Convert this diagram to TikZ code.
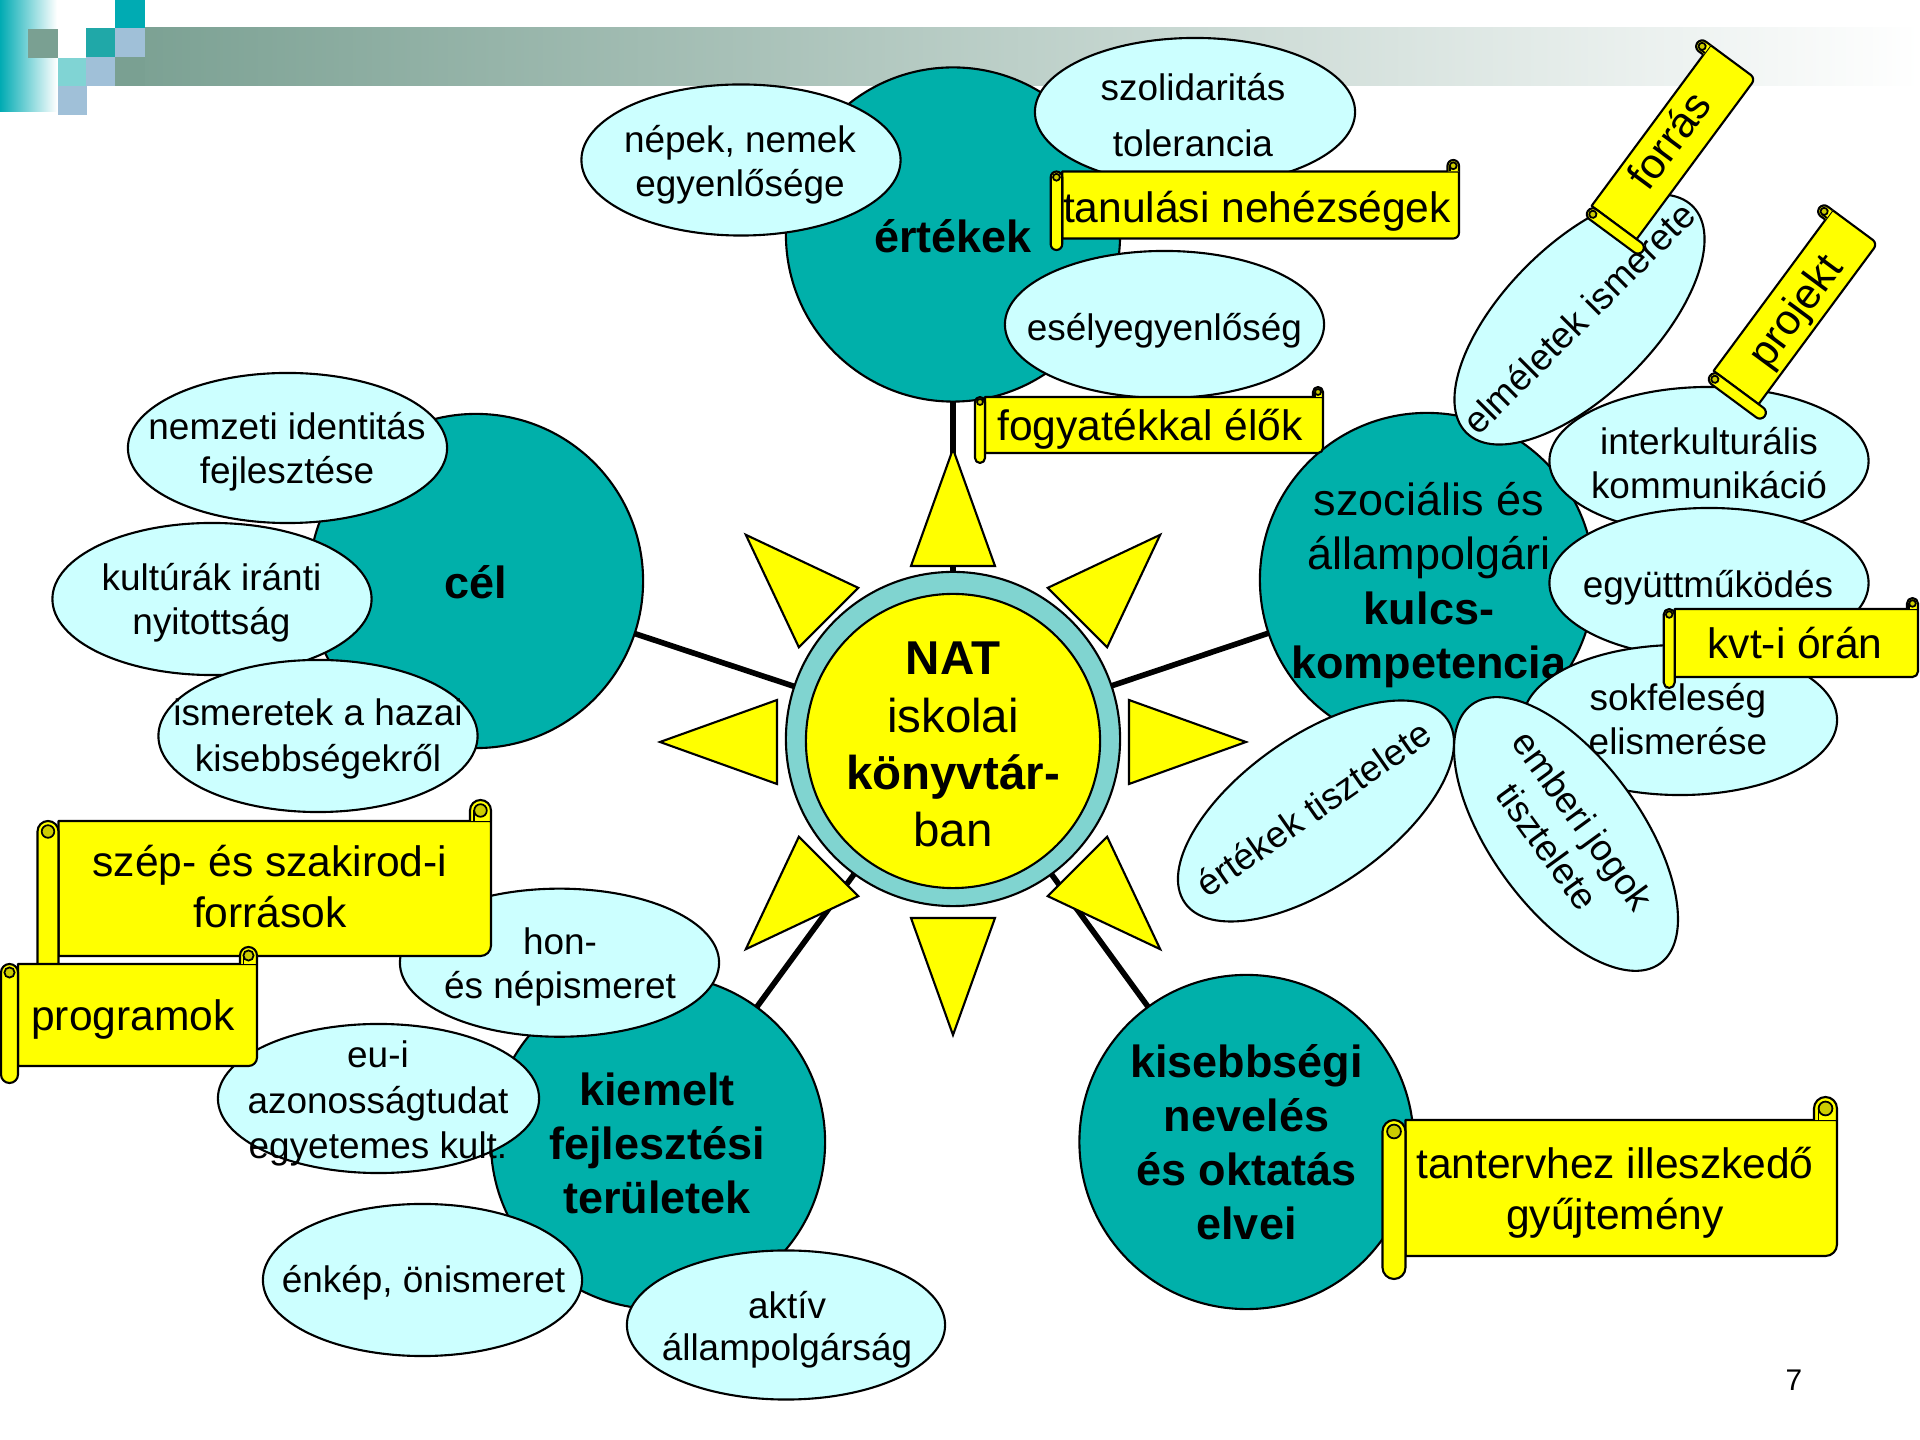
\documentclass[tikz,border=0pt]{standalone}
\usepackage{fontspec}
\setmainfont{Liberation Sans}
\usetikzlibrary{shapes.geometric}
\pgfdeclarelayer{background}
\pgfsetlayers{background,main}
\definecolor{tealc}{RGB}{0,176,170}
\definecolor{cyanl}{RGB}{204,255,255}
\definecolor{ringc}{RGB}{128,212,208}
\definecolor{yel}{RGB}{255,255,0}
\definecolor{curlY}{RGB}{204,204,0}
\definecolor{hdteal}{RGB}{0,171,179}
\definecolor{hdteal2}{RGB}{32,168,168}
\definecolor{hdgreen}{RGB}{122,160,146}
\definecolor{hdlteal}{RGB}{128,212,212}
\definecolor{hdblue}{RGB}{160,192,216}
\newcommand\fEll{\fontsize{10.5pt}{12.5pt}\selectfont}
\newcommand\fTeal{\fontsize{12.8pt}{15.4pt}\selectfont}
\newcommand\fNat{\fontsize{13.5pt}{16.3pt}\selectfont}
\newcommand\fScr{\fontsize{12.1pt}{14.4pt}\selectfont}
% horizontal scroll: left, top, right, bottom, roll size (pixel units, y down)
\newcommand\hscroll[5]{%
  \pgfmathsetmacro\scL{#1}\pgfmathsetmacro\scT{#2}%
  \pgfmathsetmacro\scR{#3}\pgfmathsetmacro\scB{#4}%
  \pgfmathsetmacro\scC{#5}\pgfmathsetmacro\scH{#5/2}%
  \filldraw[scr] ({\scL+\scC},{\scT+\scC}) -- (\scR,{\scT+\scC}) -- (\scR,{\scB-\scC-\scH})
     arc[start angle=0,end angle=90,radius=\scH] -- ({\scL+\scC},{\scB-\scC}) -- cycle;
  \filldraw[scr] ({\scR-\scC},{\scT+\scC}) -- ({\scR-\scC},{\scT+\scH})
     arc[start angle=180,end angle=360,radius=\scH] -- (\scR,{\scT+\scC});
  \filldraw[curl] ({\scR-\scH},{\scT+\scH}) circle[radius={0.6*\scH}];
  \draw[line width=0.5pt] ({\scR-\scC*0.8},{\scT+\scH}) -- ({\scR-\scC*0.8},{\scT+\scC});
  \filldraw[scr] (\scL,{\scT+\scC+\scH}) arc[start angle=180,end angle=360,radius=\scH]
     -- ({\scL+\scC},{\scB-\scH}) arc[start angle=0,end angle=180,radius=\scH] -- cycle;
  \filldraw[curl] ({\scL+\scH},{\scT+\scC+\scH}) circle[radius={0.6*\scH}];
}
\tikzset{
  conn/.style={line width=1.6pt, black},
  cyell/.style={ellipse, draw=black, line width=0.6pt, fill=cyanl, inner sep=0pt,
                minimum width=3.2cm, minimum height=1.5cm},
  tealblob/.style={circle, draw=black, line width=0.6pt, fill=tealc, inner sep=0pt,
                minimum size=3.34cm},
  scr/.style={fill=yel, draw=black, line width=0.6pt, line join=round},
  curl/.style={fill=curlY, draw=black, line width=0.5pt},
  ray/.style={fill=yel, draw=black, line width=0.6pt},
  txt/.style={align=center, inner sep=0pt, anchor=north, text=black},
  etxt/.style={txt, font=\fEll},
  ttxt/.style={txt, font=\fTeal},
  ntxt/.style={txt, font=\fNat},
  stxt/.style={txt, font=\fScr},
}
\begin{document}
\begin{tikzpicture}[x=0.01cm,y=-0.01cm]
\useasboundingbox (0,0) rectangle (1920,1440);
% ---------- header decoration ----------
\begin{pgfonlayer}{background}
  \fill[white] (0,0) rectangle (1920,1440);
  \shade[left color=hdgreen, right color=white] (115,28) rectangle (1920,86);
  \shade[left color=hdteal, right color=white] (0,0) rectangle (57,112);
  \fill[hdgreen] (28,29) rectangle (58,58);
  \fill[hdlteal] (58,58) rectangle (87,86);
  \fill[hdblue] (58,86) rectangle (87,115);
  \fill[hdteal2] (86,28) rectangle (115,57);
  \fill[hdblue] (86,57) rectangle (115,86);
  \fill[hdteal] (115,0) rectangle (145,28);
  \fill[hdblue] (115,28) rectangle (145,57);
  \fill[hdgreen] (115,57) rectangle (145,86);
\end{pgfonlayer}

% ---------- teal hubs ----------
\node[tealblob] (ert) at (953,234.5) {};
\node[ttxt] (ertt) at (953,214.1) {\strut\textbf{értékek}};
\node[tealblob] (cel) at (476,581) {};
\node[ttxt] (celt) at (476,560.1) {\strut\textbf{cél}};
\node[tealblob] (szoc) at (1427,580) {};
\node[ttxt] (szoct) at (1429,477.1) {\strut szociális és\\\strut állampolgári\\\strut\textbf{kulcs-}\\\strut\textbf{kompetencia}};
\node[tealblob] (kiem) at (658,1142) {};
\node[ttxt] (kiemt) at (657,1066.7) {\strut\textbf{kiemelt}\\\strut\textbf{fejlesztési}\\\strut\textbf{területek}};
\node[tealblob] (kis) at (1246.5,1142) {};
\node[ttxt] (kist) at (1246.5,1038.8) {\strut\textbf{kisebbségi}\\\strut\textbf{nevelés}\\\strut\textbf{és oktatás}\\\strut\textbf{elvei}};

% ---------- sun ----------
\foreach \a in {0,45,...,315}{
  \begin{scope}[shift={(953,742)}, rotate=\a]
    \filldraw[ray] (293,0) -- (176,42) -- (176,-42) -- cycle;
  \end{scope}
}
\node[circle, draw=black, line width=0.6pt, fill=ringc, minimum size=3.34cm, inner sep=0pt] (nat) at (953,739) {};
\node[circle, draw=black, line width=0.6pt, fill=yel, minimum size=2.94cm, inner sep=0pt] (natin) at (953,741) {};
\node[ntxt] (natt) at (953,633.9) {\strut\textbf{NAT}\\\strut iskolai\\\strut\textbf{könyvtár-}\\\strut ban};

% ---------- around értékek ----------
\node[cyell, minimum width=3.19cm, minimum height=1.51cm] (nep) at (741,160) {};
\node[etxt] (nept) at (740,120.9) {\strut népek, nemek\\\strut egyenlősége};
\node[cyell, minimum height=1.48cm] (szol) at (1195,112) {};
\node[etxt, font={\fontsize{10.5pt}{15.9pt}\selectfont}] (szolt) at (1193,60.8) {\strut szolidaritás\\\strut tolerancia};
\node[cyell, minimum width=3.19cm, minimum height=1.47cm] (esely) at (1164.5,324.5) {};
\node[etxt] (eselyt) at (1164.5,309.2) {\strut esélyegyenlőség};
\hscroll{1050.7}{160}{1459}{250}{11.5}
\node[stxt] (tanul) at (1257,186.3) {\strut tanulási nehézségek};
\hscroll{975}{387}{1323}{463}{10}
\node[stxt] (fogy) at (1150,404.6) {\strut fogyatékkal élők};

% ---------- around cél ----------
\node[cyell, minimum width=3.19cm] (nemz) at (287.5,448) {};
\node[etxt] (nemzt) at (287,408.2) {\strut nemzeti identitás\\\strut fejlesztése};
\node[cyell, minimum width=3.19cm, minimum height=1.52cm] (kult) at (212,599) {};
\node[etxt] (kultt) at (211.5,559.2) {\strut kultúrák iránti\\\strut nyitottság};
\node[cyell, minimum width=3.19cm, minimum height=1.52cm] (ism) at (318,736) {};
\node[etxt, font={\fontsize{10.5pt}{13.1pt}\selectfont}] (ismt) at (318,692.8) {\strut ismeretek a hazai\\\strut kisebbségekről};

% ---------- around szociális ----------
\node[cyell, minimum width=3.19cm, minimum height=1.48cm] (inter) at (1709,461) {};
\node[etxt] (intert) at (1709,423.2) {\strut interkulturális\\\strut kommunikáció};
\node[cyell, rotate=45] (elm) at (1579.5,319.5) {};
\node[etxt, anchor=center, rotate=45] (elmt) at (1582,321) {\strut elméletek ismerete};
\begin{scope}[shift={(1670,147)}, rotate=53.5]
  \hscroll{-106}{-40}{106}{40}{12}
\end{scope}
\node[stxt, anchor=center, rotate=53.5] (forr) at (1673,143) {\strut forrás};
\begin{scope}[shift={(1792,312)}, rotate=53.5]
  \hscroll{-106}{-40}{106}{40}{12}
\end{scope}
\node[stxt, anchor=center, rotate=53.5] (proj) at (1798,313) {\strut projekt};
\node[cyell, minimum width=3.19cm] (egy) at (1709,583) {};
\node[etxt] (egyt) at (1708,565.9) {\strut együttműködés};
\node[cyell, minimum width=3.14cm] (sok) at (1680,720) {};
\node[etxt] (sokt) at (1678,679.2) {\strut sokféleség\\\strut elismerése};
\node[cyell, rotate=35] (ertt2) at (1316,811) {};
\node[etxt, anchor=center, rotate=35] (ertt2t) at (1316,812) {\strut értékek tisztelete};
\node[cyell, rotate=-54] (emb) at (1566,834) {};
\node[etxt, anchor=center, rotate=-54] (embt) at (1562,836) {\strut emberi jogok\\\strut tisztelete};
\hscroll{1663.7}{598}{1918}{688}{11}
\node[stxt] (kvt) at (1795,622.6) {\strut kvt-i órán};

% ---------- around kiemelt ----------
\node[cyell, minimum width=3.19cm, minimum height=1.48cm] (hon) at (559.5,962.7) {};
\node[etxt] (hont) at (560,922.8) {\strut hon-\\\strut és népismeret};
\node[cyell, minimum width=3.21cm, minimum height=1.49cm] (eu) at (378.5,1098.5) {};
\node[etxt, font={\fontsize{10.5pt}{12.9pt}\selectfont}] (eut) at (378,1035.3) {\strut eu-i\\\strut azonosságtudat\\\strut egyetemes kult.};
\node[cyell, minimum width=3.19cm, minimum height=1.52cm] (enk) at (422.5,1280) {};
\node[etxt] (enkt) at (423.5,1261.2) {\strut énkép, önismeret};
\node[cyell, minimum width=3.18cm, minimum height=1.49cm] (akt) at (786,1325) {};
\node[etxt, font={\fontsize{10.5pt}{11.9pt}\selectfont}] (aktt) at (787,1288.7) {\strut aktív\\\strut állampolgárság};
\hscroll{37.5}{800}{491}{977}{21}
\node[stxt] (szep) at (270,840.6) {\strut szép- és szakirod-i\\\strut források};
\hscroll{1}{947}{257}{1083}{17}
\node[stxt] (prog) at (133,994.6) {\strut programok};

% ---------- kisebbségi ----------
\hscroll{1382.5}{1097}{1837}{1279}{23}
\node[stxt] (tant) at (1615,1142.6) {\strut tantervhez illeszkedő\\\strut gyűjtemény};

% ---------- page number ----------
\node[font={\fontsize{8.5pt}{10pt}\selectfont}, anchor=base, inner sep=0pt] (pg) at (1794,1390) {7};

% ---------- connectors (behind everything) ----------
\begin{pgfonlayer}{background}
  \draw[conn] (nat.center) -- (ert.center);
  \draw[conn] (nat.center) -- (cel.center);
  \draw[conn] (nat.center) -- (szoc.center);
  \draw[conn] (nat.center) -- (kiem.center);
  \draw[conn] (nat.center) -- (kis.center);
\end{pgfonlayer}
\end{tikzpicture}
\end{document}
